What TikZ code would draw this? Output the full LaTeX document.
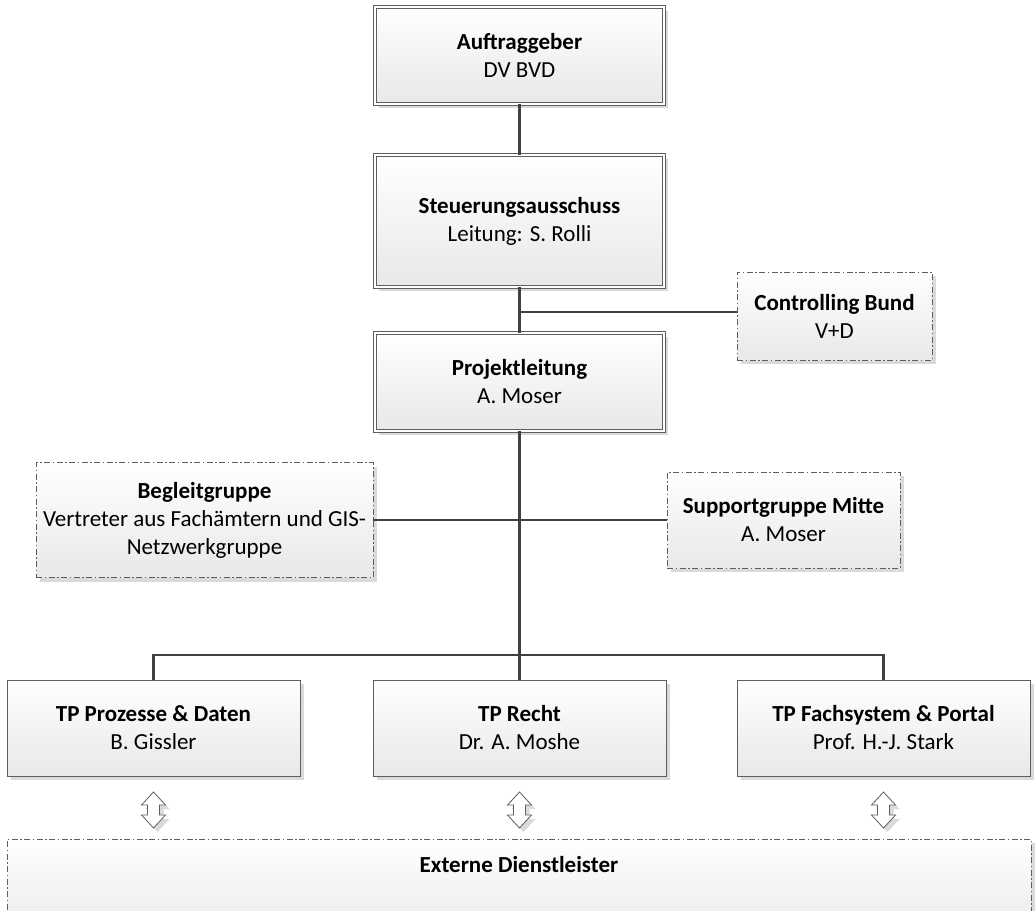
\documentclass[tikz,border=0pt]{standalone}
\usepackage{fontspec}
\setmainfont{Carlito}
\usetikzlibrary{shadows}

\definecolor{linec}{HTML}{404040}
\definecolor{boxline}{HTML}{5E5E5E}
\definecolor{shadowc}{HTML}{DADADA}
\definecolor{fillbot}{HTML}{E8E8E8}

\tikzset{
  txt/.style={font=\fontsize{23}{28}\selectfont},
  box/.style={rectangle, draw=boxline, line width=0.8pt,
    top color=white, bottom color=fillbot, align=center,
    txt, inner sep=0pt,
    drop shadow={shadow xshift=4pt, shadow yshift=-4pt, fill=shadowc, opacity=1}},
  mainbox/.style={box, double=white, double distance=2.6pt,
    minimum width=289pt},
  tpbox/.style={box, minimum width=293pt, minimum height=96pt},
  dbox/.style={box, dash pattern=on 6pt off 2.5pt on 1.5pt off 2.5pt},
  conn/.style={draw=linec, line width=2.6pt},
  updown/.pic={
    \path[fill=shadowc, shift={(4,4)}]
      (0,-18) -- (12,-5) -- (6,-5) -- (6,5) -- (12,5) -- (0,18)
      -- (-12,5) -- (-6,5) -- (-6,-5) -- (-12,-5) -- cycle;
    \path[draw=boxline, fill=white, line width=0.8pt]
      (0,-18) -- (12,-5) -- (6,-5) -- (6,5) -- (12,5) -- (0,18)
      -- (-12,5) -- (-6,5) -- (-6,-5) -- (-12,-5) -- cycle;
  }
}

\begin{document}
\begin{tikzpicture}[x=1pt,y=-1pt]
\useasboundingbox (0,0) rectangle (1035,910);
\clip (0,0) rectangle (1035,910);

% leadership chain
\node[mainbox, minimum height=97pt] (auf) at (519.5,55.5)
  {\textbf{Auftraggeber}\\DV BVD};
\node[mainbox, minimum height=132pt] (steu) at (519.5,221)
  {\textbf{Steuerungsausschuss}\\Leitung: S. Rolli};
\node[mainbox, minimum height=98pt] (proj) at (519.5,382)
  {\textbf{Projektleitung}\\A. Moser};

% side groups
\node[dbox, minimum width=195pt, minimum height=88pt] (ctrl) at (834.5,316)
  {\textbf{Controlling Bund}\\V+D};
\node[dbox, minimum width=337pt, minimum height=115pt] (begl) at (204.5,520)
  {\textbf{Begleitgruppe}\\Vertreter aus Fachämtern und GIS-\\Netzwerkgruppe};
\node[dbox, minimum width=233pt, minimum height=96pt] (supp) at (783.5,520)
  {\textbf{Supportgruppe Mitte}\\A. Moser};

% sub-projects
\node[tpbox] (tp1) at (153.5,728) {\textbf{TP Prozesse \& Daten}\\B. Gissler};
\node[tpbox] (tp2) at (519.5,728) {\textbf{TP Recht}\\Dr. A. Moshe};
\node[tpbox] (tp3) at (883.5,728) {\textbf{TP Fachsystem \& Portal}\\Prof. H.-J. Stark};

% external providers
\node[dbox, minimum width=1024pt, minimum height=100pt, anchor=north] (ext) at (519,839) {};
\node[txt, inner sep=0pt] (extlabel) at (519,865)
  {\textbf{Externe Dienstleister}};

% connectors
\coordinate (j1) at (519.5,312);
\coordinate (bus) at (519.5,655);
\coordinate (arrowrow) at (0,810);

\draw[conn] (auf.south) -- (steu.north);
\draw[conn] (steu.south) -- (proj.north);
\draw[conn] (j1) -- (j1 -| ctrl.west);
\draw[conn] (proj.south) -- (tp2.north);
\draw[conn] (begl.east) -- (supp.west);
\draw[conn] (tp1.north) |- (bus) -| (tp3.north);

% exchange arrows
\pic at (tp1.south |- arrowrow) {updown};
\pic at (tp2.south |- arrowrow) {updown};
\pic at (tp3.south |- arrowrow) {updown};
\end{tikzpicture}
\end{document}
